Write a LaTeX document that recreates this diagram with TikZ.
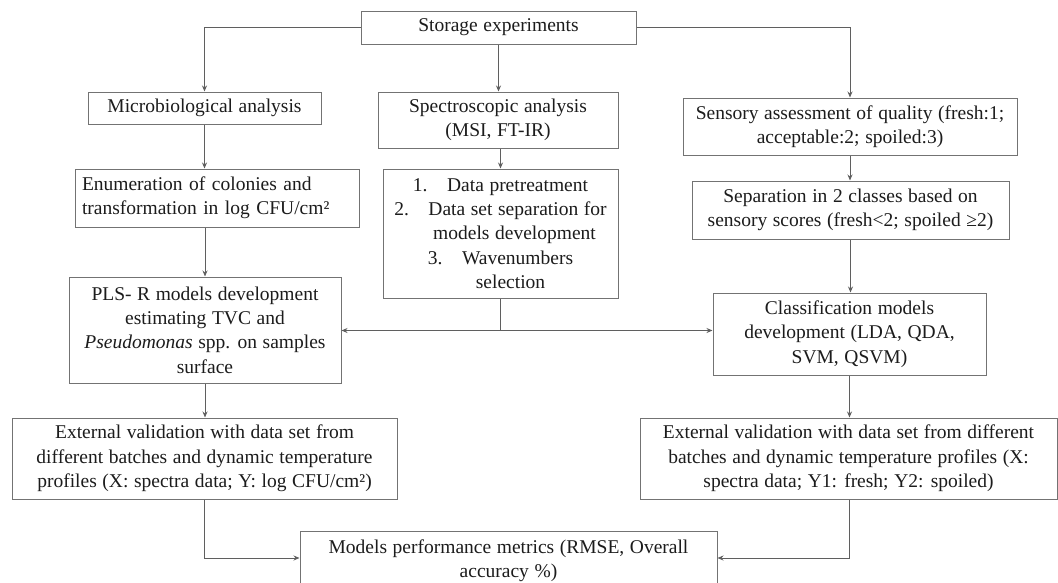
\documentclass[tikz,border=0pt]{standalone}
\usepackage{fontspec}
\setmainfont{Liberation Serif}[WordSpace={1.15,1,1}]
\usetikzlibrary{arrows.meta}
\definecolor{boxline}{RGB}{115,115,115}
\definecolor{arrline}{RGB}{95,95,95}
\definecolor{txt}{RGB}{28,28,28}
\begin{document}
\begin{tikzpicture}[x=1pt,y=-1pt,
  box/.style={draw=boxline, line width=1pt, inner sep=0pt, align=center,
    font=\fontsize{19.5}{24.3}\selectfont, text=txt},
  arr/.style={draw=arrline, line width=0.9pt, -{Stealth[length=6pt,width=5pt]}},
  plain/.style={draw=arrline, line width=0.9pt}]
\useasboundingbox (0,0) rectangle (1058,582);
\fill[white] (0,0) rectangle (1058,582);

\node[box, minimum width=275pt, minimum height=33pt] (st) at (498.5,27.5) {Storage experiments};
\node[box, minimum width=233pt, minimum height=32pt] (mi) at (204.5,108) {Microbiological analysis};
\node[box, minimum width=240pt, minimum height=56pt] (sp) at (498,120) {Spectroscopic analysis\\(MSI, FT-IR)};
\node[box, minimum width=334pt, minimum height=57pt] (se) at (850,126.5) {Sensory assessment of quality (fresh:1;\\acceptable:2; spoiled:3)};
\node[box, minimum width=284pt, minimum height=58pt, text width=270pt, inner xsep=7pt, align=left] (en) at (217,198) {Enumeration of colonies and\\transformation in log CFU/cm²};
\node[box, minimum width=235pt, minimum height=129pt] (da) at (500.5,233.5) {1.\quad Data pretreatment\\2.\quad Data set separation for\\\hspace*{28pt}models development\\3.\quad Wavenumbers\\\hspace*{20pt}selection};
\node[box, minimum width=317pt, minimum height=58pt] (sa) at (850.5,210) {Separation in 2 classes based on\\sensory scores (fresh<2; spoiled ≥2)};
\node[box, minimum width=272pt, minimum height=106pt] (pl) at (205,330) {PLS- R models development\\estimating TVC and\\\textit{Pseudomonas} spp. on samples\\surface};
\node[box, minimum width=273pt, minimum height=82pt] (cl) at (849.5,334) {Classification models\\development (LDA, QDA,\\SVM, QSVM)};
\node[box, minimum width=385pt, minimum height=81pt] (el) at (204.5,458.5) {External validation with data set from\\different batches and dynamic temperature\\profiles (X: spectra data; Y: log CFU/cm²)};
\node[box, minimum width=417pt, minimum height=81pt] (er) at (848.5,458.5) {External validation with data set from different\\batches and dynamic temperature profiles (X:\\spectra data; Y1: fresh; Y2: spoiled)};
\node[box, minimum width=417pt, minimum height=60pt] (mo) at (508.5,561) {Models performance metrics (RMSE, Overall\\accuracy \%)};

\draw[arr] (st.west) -| (mi.north);
\draw[arr] (st.south) -- (st.south |- sp.north);
\draw[arr] (st.east) -| (se.north);
\draw[arr] (mi.south) -- (mi.south |- en.north);
\draw[arr] (da.north |- sp.south) -- (da.north);
\draw[arr] (se.south) -- (se.south |- sa.north);
\draw[arr] (pl.north |- en.south) -- (pl.north);
\draw[plain] (da.south) -- ++(0,32) coordinate (j);
\draw[arr] (j) -- (j -| pl.east);
\draw[arr] (j) -- (j -| cl.west);
\draw[arr] (sa.south) -- (sa.south |- cl.north);
\draw[arr] (pl.south) -- (pl.south |- el.north);
\draw[arr] (cl.south) -- (cl.south |- er.north);
\draw[arr] (el.south) |- ([yshift=3pt]mo.west);
\draw[arr] (cl.south |- er.south) |- ([yshift=3pt]mo.east);
\end{tikzpicture}
\end{document}
